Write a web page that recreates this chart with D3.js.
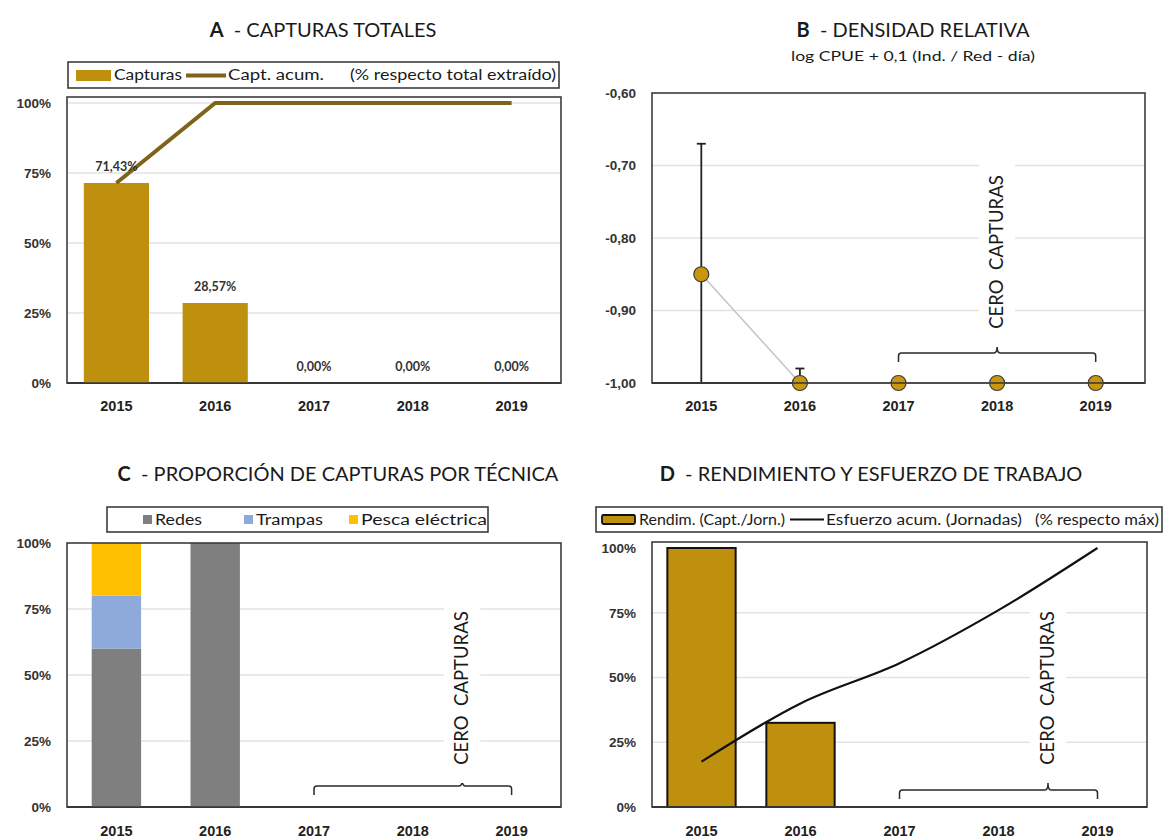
<!DOCTYPE html>
<html>
<head>
<meta charset="utf-8">
<script src="https://cdn.jsdelivr.net/npm/d3@7"></script>
<style>
  html, body { margin: 0; padding: 0; background: #fff; }
  svg { display: block; font-family: "Lato", "Open Sans", sans-serif; }
</style>
</head>
<body>
<svg id="chart" width="1165" height="839"></svg>
<script>
// ---- data ----
const years = ["2015", "2016", "2017", "2018", "2019"];
const pctTicks = [0, 25, 50, 75, 100];

// A: share of total catch per year and cumulative share (%)
const capturasPct = [71.43, 28.57, 0, 0, 0];
const capturasAcum = [71.43, 100, 100, 100, 100];

// B: log CPUE + 0.1 with error
const cpue = [-0.85, -1.00, -1.00, -1.00, -1.00];
const cpueError = [0.18, 0.02, 0, 0, 0];
const cpueTicks = [-1.0, -0.9, -0.8, -0.7, -0.6];

// C: proportion of catch per technique (%)
const redes = [60, 100, 0, 0, 0];
const trampas = [20, 0, 0, 0, 0];
const pescaElectrica = [20, 0, 0, 0, 0];

// D: yield and cumulative effort (% of max)
const rendimiento = [100, 32.5, 0, 0, 0];
const esfuerzoAcum = [17.5, 40, 55.5, 76, 100];

// ---- styles ----
const GOLD = "#bf900e";
const DARKGOLD = "#7d6418";
const GRID = "#e3e3e3";
const FRAME = "#3c3c3c";

const locale = d3.formatLocale({decimal: ",", thousands: ".", grouping: [3], currency: ["", "€"], minus: "-"});
const fmtPct2 = v => locale.format(".2f")(v) + "%";
const fmtPct0 = v => locale.format("d")(v) + "%";
const fmtDec2 = v => locale.format(".2f")(v);

const svg = d3.select("#chart");

function title(cx, y, letter, text) {
  const t = svg.append("text").attr("x", cx).attr("y", y)
    .attr("text-anchor", "middle").attr("font-size", 20).attr("fill", "#1a1a1a")
    .attr("xml:space", "preserve");
  t.append("tspan").attr("font-weight", 700).text(letter);
  t.append("tspan").text("  - " + text);
  return t;
}

// legend text stretched to the width of the legend entries
function legendText(g, x, y, str, len, anchor) {
  return g.append("text").attr("x", x).attr("y", y).attr("font-size", 14.5).attr("fill", "#1a1a1a")
    .attr("text-anchor", anchor || "start")
    .attr("textLength", len).attr("lengthAdjust", "spacingAndGlyphs").text(str);
}

function frame(g, x0, x1, yTop, yBot) {
  g.append("rect").attr("x", x0).attr("y", yTop).attr("width", x1 - x0).attr("height", yBot - yTop)
    .attr("fill", "none").attr("stroke", FRAME).attr("stroke-width", 1.6);
}

function panelAxes(g, x, y, ticks, fmt, x0, x1, yBot, labelY, gridTicks) {
  // grid
  g.append("g").selectAll("line").data(gridTicks).join("line")
    .attr("x1", x0).attr("x2", x1).attr("y1", d => y(d)).attr("y2", d => y(d))
    .attr("stroke", GRID).attr("stroke-width", 1.3);
  // y axis labels
  const ya = g.append("g").attr("transform", `translate(${x0},0)`)
    .call(d3.axisLeft(y).tickValues(ticks).tickFormat(fmt).tickSize(0).tickPadding(16));
  ya.select(".domain").remove();
  ya.selectAll("text").attr("font-size", 13.5).attr("font-weight", 700).attr("fill", "#333");
  // x axis labels
  const xa = g.append("g").attr("transform", `translate(0,${labelY})`)
    .call(d3.axisBottom(x).tickSize(0).tickPadding(0));
  xa.select(".domain").remove();
  xa.selectAll("text").attr("font-size", 14.5).attr("font-weight", 700).attr("fill", "#222");
  // baseline
  g.append("line").attr("x1", x0).attr("x2", x1).attr("y1", yBot).attr("y2", yBot)
    .attr("stroke", "#222").attr("stroke-width", 2);
}

function ceroCapturas(g, x, from, to, tickX, bracketY, textCY) {
  const xa = x(from) + x.bandwidth() / 2, xb = x(to) + x.bandwidth() / 2;
  const r = 3;
  g.append("path")
    .attr("d", `M${xa},${bracketY + 9} L${xa},${bracketY + r} Q${xa},${bracketY} ${xa + r},${bracketY}
                L${tickX - r},${bracketY} Q${tickX},${bracketY} ${tickX},${bracketY - 7}
                Q${tickX},${bracketY} ${tickX + r},${bracketY}
                L${xb - r},${bracketY} Q${xb},${bracketY} ${xb},${bracketY + r} L${xb},${bracketY + 9}`)
    .attr("fill", "none").attr("stroke", "#2a2a2a").attr("stroke-width", 1.5);
  // white backing that interrupts the gridlines
  g.append("rect").attr("x", tickX - 18).attr("y", textCY - 95).attr("width", 36).attr("height", 190)
    .attr("fill", "#fff");
  g.append("text").attr("transform", `translate(${tickX + 6},${textCY}) rotate(-90)`)
    .attr("text-anchor", "middle").attr("font-size", 18.5).attr("fill", "#1a1a1a")
    .attr("xml:space", "preserve").text("CERO  CAPTURAS");
}

// ================= A - CAPTURAS TOTALES =================
{
  const x0 = 67, x1 = 561, yTop = 97, yBot = 383;
  const g = svg.append("g");
  title(323, 37, "A", "CAPTURAS TOTALES");
  const x = d3.scaleBand().domain(years).range([x0, x1]).paddingInner(0.34).paddingOuter(0.17);
  const y = d3.scaleLinear().domain([0, 100]).range([yBot, 103]);

  // legend
  g.append("rect").attr("x", 68).attr("y", 62).attr("width", 491).attr("height", 26)
    .attr("fill", "#fff").attr("stroke", FRAME).attr("stroke-width", 1.6);
  g.append("rect").attr("x", 76).attr("y", 70).attr("width", 35).attr("height", 11).attr("fill", GOLD);
  legendText(g, 114, 80, "Capturas", 68);
  g.append("line").attr("x1", 186).attr("x2", 226).attr("y1", 75.5).attr("y2", 75.5)
    .attr("stroke", DARKGOLD).attr("stroke-width", 4);
  legendText(g, 228, 80, "Capt. acum.", 96);
  legendText(g, 556, 80, "(% respecto total extraído)", 206, "end");

  panelAxes(g, x, y, pctTicks, fmtPct0, x0, x1, yBot, 401, [25, 50, 75, 100]);

  const cx = d => x(d) + x.bandwidth() / 2;
  g.append("g").selectAll("rect").data(years).join("rect")
    .attr("x", d => x(d)).attr("width", x.bandwidth())
    .attr("y", (d, i) => y(capturasPct[i])).attr("height", (d, i) => yBot - y(capturasPct[i]))
    .attr("fill", GOLD);
  g.append("path").datum(capturasAcum)
    .attr("d", d3.line().x((d, i) => cx(years[i])).y(d => y(d)))
    .attr("fill", "none").attr("stroke", DARKGOLD).attr("stroke-width", 4);
  g.append("g").selectAll("text").data(years).join("text")
    .attr("x", d => cx(d)).attr("y", (d, i) => y(capturasPct[i]) - 12)
    .attr("text-anchor", "middle").attr("font-size", 12.5).attr("font-weight", 700).attr("fill", "#333")
    .text((d, i) => fmtPct2(capturasPct[i]));
  frame(g, x0, x1, yTop, yBot);
}

// ================= B - DENSIDAD RELATIVA =================
{
  const x0 = 652, x1 = 1145, yTop = 93, yBot = 383;
  const g = svg.append("g");
  title(913, 37, "B", "DENSIDAD RELATIVA");
  svg.append("text").attr("x", 913).attr("y", 61).attr("text-anchor", "middle")
    .attr("font-size", 14).attr("fill", "#1a1a1a")
    .attr("textLength", 244).attr("lengthAdjust", "spacingAndGlyphs")
    .text("log CPUE + 0,1 (Ind. / Red - día)");
  const x = d3.scaleBand().domain(years).range([x0, x1]);
  const y = d3.scaleLinear().domain([-1.0, -0.6]).range([yBot, yTop]);
  const cx = d => x(d) + x.bandwidth() / 2;

  panelAxes(g, x, y, cpueTicks, fmtDec2, x0, x1, yBot, 401, [-0.9, -0.8, -0.7]);

  ceroCapturas(g, x, "2017", "2019", cx("2018"), 353, 252);

  // connecting line
  g.append("path").datum(cpue)
    .attr("d", d3.line().x((d, i) => cx(years[i])).y(d => y(d)))
    .attr("fill", "none").attr("stroke", "#c4c4c4").attr("stroke-width", 1.5);
  // error bars
  const eb = g.append("g").attr("stroke", "#222").attr("stroke-width", 1.8);
  years.forEach((d, i) => {
    if (!cpueError[i]) return;
    const hi = cpue[i] + cpueError[i], lo = Math.max(-1.0, cpue[i] - cpueError[i]);
    eb.append("line").attr("x1", cx(d)).attr("x2", cx(d)).attr("y1", y(lo)).attr("y2", y(hi));
    eb.append("line").attr("x1", cx(d) - 4.5).attr("x2", cx(d) + 4.5).attr("y1", y(hi)).attr("y2", y(hi));
  });
  // markers
  g.append("g").selectAll("circle").data(years).join("circle")
    .attr("cx", d => cx(d)).attr("cy", (d, i) => y(cpue[i])).attr("r", 7.5)
    .attr("fill", "#c9970f").attr("stroke", "#3a3a3a").attr("stroke-width", 1.2);
  frame(g, x0, x1, yTop, yBot);
}

// ================= C - PROPORCIÓN DE CAPTURAS POR TÉCNICA =================
{
  const x0 = 67, x1 = 561, yTop = 543, yBot = 807;
  const g = svg.append("g");
  title(338, 481, "C", "PROPORCIÓN DE CAPTURAS POR TÉCNICA");
  const x = d3.scaleBand().domain(years).range([x0, x1]).paddingInner(0.5).paddingOuter(0.25);
  const y = d3.scaleLinear().domain([0, 100]).range([yBot, yTop]);

  // legend
  const series = [
    {name: "Redes", values: redes, color: "#7f7f7f", lx: 143, len: 47},
    {name: "Trampas", values: trampas, color: "#8eaadb", lx: 244, len: 67},
    {name: "Pesca eléctrica", values: pescaElectrica, color: "#ffc000", lx: 349, len: 126}
  ];
  g.append("rect").attr("x", 107).attr("y", 507).attr("width", 381).attr("height", 25)
    .attr("fill", "#fff").attr("stroke", FRAME).attr("stroke-width", 1.6);
  series.forEach(s => {
    g.append("rect").attr("x", s.lx).attr("y", 515).attr("width", 9).attr("height", 9).attr("fill", s.color);
    legendText(g, s.lx + 12, 524.5, s.name, s.len);
  });

  panelAxes(g, x, y, pctTicks, fmtPct0, x0, x1, yBot, 826, [25, 50, 75]);

  const stacked = d3.stack().keys([0, 1, 2]).value((row, k) => series[k].values[row])(d3.range(years.length));
  stacked.forEach((layer, k) => {
    g.append("g").selectAll("rect").data(layer).join("rect")
      .attr("x", (d, i) => x(years[i])).attr("width", x.bandwidth())
      .attr("y", d => y(d[1])).attr("height", d => y(d[0]) - y(d[1]))
      .attr("fill", series[k].color);
  });
  const xc = x("2018") + x.bandwidth() / 2 + 0.5 * x.step();
  ceroCapturas(g, x, "2017", "2019", xc, 786, 688);
  frame(g, x0, x1, yTop, yBot);
}

// ================= D - RENDIMIENTO Y ESFUERZO DE TRABAJO =================
{
  const x0 = 652, x1 = 1147, yTop = 542, yBot = 807;
  const g = svg.append("g");
  title(871, 481, "D", "RENDIMIENTO Y ESFUERZO DE TRABAJO");
  const x = d3.scaleBand().domain(years).range([x0, x1]).paddingInner(0.31).paddingOuter(0.155);
  const y = d3.scaleLinear().domain([0, 100]).range([yBot, 548]);
  const cx = d => x(d) + x.bandwidth() / 2;

  // legend
  g.append("rect").attr("x", 596).attr("y", 507).attr("width", 566).attr("height", 25)
    .attr("fill", "#fff").attr("stroke", FRAME).attr("stroke-width", 1.6);
  g.append("rect").attr("x", 602).attr("y", 515).attr("width", 33).attr("height", 9)
    .attr("fill", GOLD).attr("stroke", "#111").attr("stroke-width", 1.8).attr("rx", 1.5);
  legendText(g, 639, 524.5, "Rendim. (Capt./Jorn.)", 146);
  g.append("line").attr("x1", 790).attr("x2", 824).attr("y1", 519.5).attr("y2", 519.5)
    .attr("stroke", "#111").attr("stroke-width", 2);
  legendText(g, 826, 524.5, "Esfuerzo acum. (Jornadas)", 196);
  legendText(g, 1159, 524.5, "(% respecto máx)", 124, "end");

  panelAxes(g, x, y, pctTicks, fmtPct0, x0, x1, yBot, 826, [25, 50, 75]);

  const xc = x("2018") + x.bandwidth() / 2 + 0.5 * x.step();
  ceroCapturas(g, x, "2017", "2019", xc, 790, 688);

  g.append("g").selectAll("rect").data(years).join("rect")
    .attr("x", d => x(d)).attr("width", x.bandwidth())
    .attr("y", (d, i) => y(rendimiento[i])).attr("height", (d, i) => yBot - y(rendimiento[i]))
    .attr("fill", GOLD).attr("stroke", "#111").attr("stroke-width", 2)
    .attr("display", (d, i) => rendimiento[i] > 0 ? null : "none");
  g.append("path").datum(esfuerzoAcum)
    .attr("d", d3.line().curve(d3.curveMonotoneX).x((d, i) => cx(years[i])).y(d => y(d)))
    .attr("fill", "none").attr("stroke", "#111").attr("stroke-width", 2.2);
  frame(g, x0, x1, yTop, yBot);
}
</script>
</body>
</html>
